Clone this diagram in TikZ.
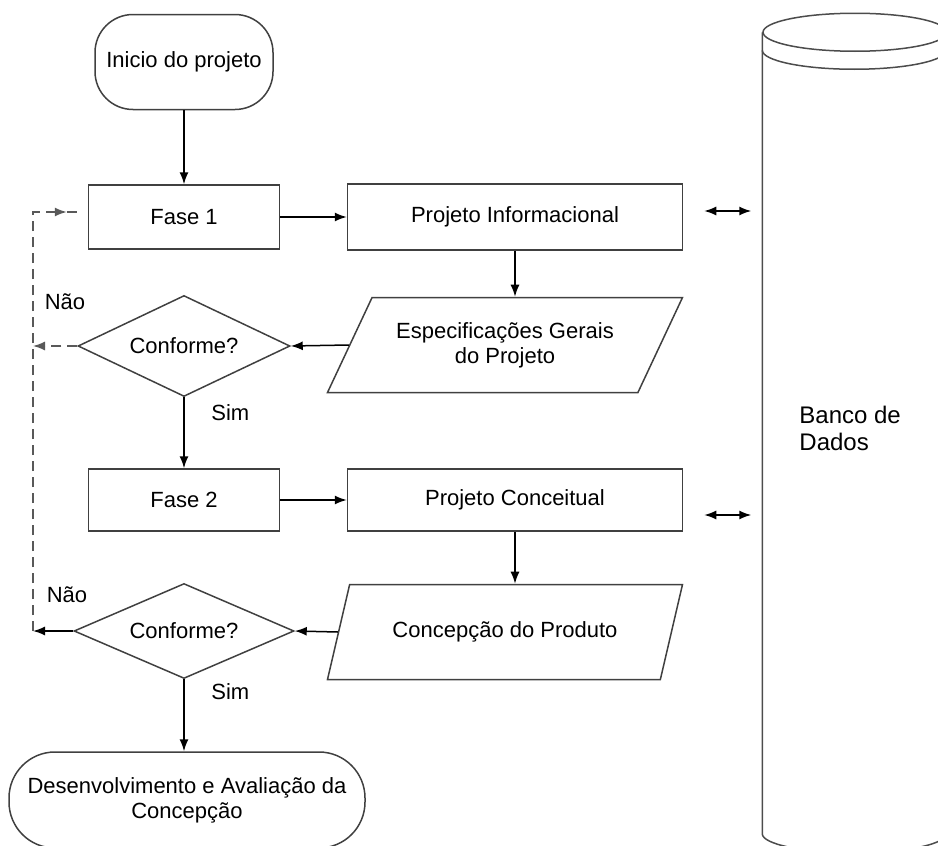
\documentclass[tikz,border=0pt]{standalone}
\usepackage{fontspec}
\setmainfont{Liberation Sans}
\usetikzlibrary{arrows.meta,positioning,shapes.geometric}

\begin{document}
\begin{tikzpicture}[x=0.5pt,y=-0.5pt,>={Latex[length=6pt,width=4.5pt]},
    line width=0.75pt,font=\fontsize{11}{12.5}\selectfont]
  \tikzstyle{terminal}=[draw=black!75, rectangle, rounded corners=19pt, minimum width=89pt, minimum height=47.5pt, align=center]
  \tikzstyle{box}=[draw=black!75, rectangle, minimum width=95.5pt, minimum height=32pt]
  \tikzstyle{io}=[draw=black!75, trapezium, trapezium left angle=48, trapezium right angle=132,
    trapezium stretches body, minimum width=177.5pt, minimum height=47.5pt, inner sep=1pt, align=center]
  \tikzstyle{decision}=[draw=black!75, diamond, aspect=2, inner sep=0pt, minimum width=106pt, minimum height=50.5pt]
  \tikzstyle{ret}=[draw=black!65, dash pattern=on 5pt off 3pt]

  \path[use as bounding box, clip] (0,0) rectangle (938,846);

  % coluna da esquerda
  \node[terminal] (start) at (184,62) {Inicio do projeto};
  \node[box] (fase1) at (184,217) {Fase 1};
  \node[decision] (chk1) at (184,346) {Conforme?};
  \node[box, minimum height=31pt] (fase2) at (184,500) {Fase 2};
  \node[decision, minimum width=110pt, minimum height=47.5pt] (chk2) at (184,631) {Conforme?};
  \node[terminal, rounded corners=23pt, minimum width=178pt, minimum height=48pt] (fim) at (187,800)
    {Desenvolvimento e Avaliação da\\Concepção};

  % coluna da direita
  \node[box, minimum width=167.5pt, minimum height=33pt] (pinf) [on grid, right=165.5pt of fase1] {Projeto Informacional};
  \node[io] (spec) at (505,345) {Especificações Gerais\\do Projeto};
  \node[box, minimum width=167.5pt, minimum height=31pt] (pconc) [on grid, right=165.5pt of fase2] {Projeto Conceitual};
  \node[io] (conc) at (505,632) {Concepção do Produto};

  % banco de dados
  \node[minimum width=92pt, minimum height=400pt, inner sep=0pt] (db) at (855,433) {};
  \draw[draw=black!70] (db.north west) -- (db.south west)
    arc[start angle=180, end angle=360, x radius=46pt, y radius=9.5pt] -- (db.north east);
  \draw[draw=black!70] (db.north) ellipse[x radius=46pt, y radius=9.5pt];
  \draw[draw=black!70] ([yshift=-9pt]db.north west)
    arc[start angle=180, end angle=360, x radius=46pt, y radius=9.5pt];
  \node[anchor=west, align=left, font=\fontsize{12}{13.5}\selectfont] (dbtxt) at (792,428) {Banco de\\Dados};

  % fluxo
  \draw[->] (start) -- (fase1);
  \draw[->] (fase1) -- (pinf);
  \draw[->] (pinf.south) -- (pinf.south |- spec.north);
  \draw[->] (spec.left side) -- (chk1.east);
  \draw[->] (chk1) -- node[pos=0.22, right, xshift=10pt] {Sim} (fase2);
  \draw[->] (fase2) -- (pconc);
  \draw[->] (pconc.south) -- (pconc.south |- conc.north);
  \draw[->] (conc.left side) -- (chk2.east);
  \draw[->] (chk2.south) -- node[pos=0.17, right, xshift=10pt] {Sim} (chk2.south |- fim.north);

  % retorno
  \coordinate (rl) at (33,212);
  \node (nao1) at (65,302) {Não};
  \node (nao2) at (67,595) {Não};
  \draw[->, ret] (chk1.west) -- (chk1.west -| rl);
  \draw[->] (chk2.west) -- (chk2.west -| rl);
  \draw[->, ret] (chk2.west -| rl) -- (rl) -- ([xshift=-10.5pt]rl -| fase1.west);
  \draw[ret] ([xshift=-10.5pt]rl -| fase1.west) -- ([xshift=-3.5pt]rl -| fase1.west);

  % ligacoes com o banco
  \coordinate (lk1) at ([shift={(10.5pt,3pt)}]pinf.east);
  \coordinate (lk2) at ([shift={(10.5pt,-7.5pt)}]pconc.east);
  \draw[<->, shorten >=5.5pt] (lk1) -- (lk1 -| db.west);
  \draw[<->, shorten >=5.5pt] (lk2) -- (lk2 -| db.west);
\end{tikzpicture}
\end{document}
